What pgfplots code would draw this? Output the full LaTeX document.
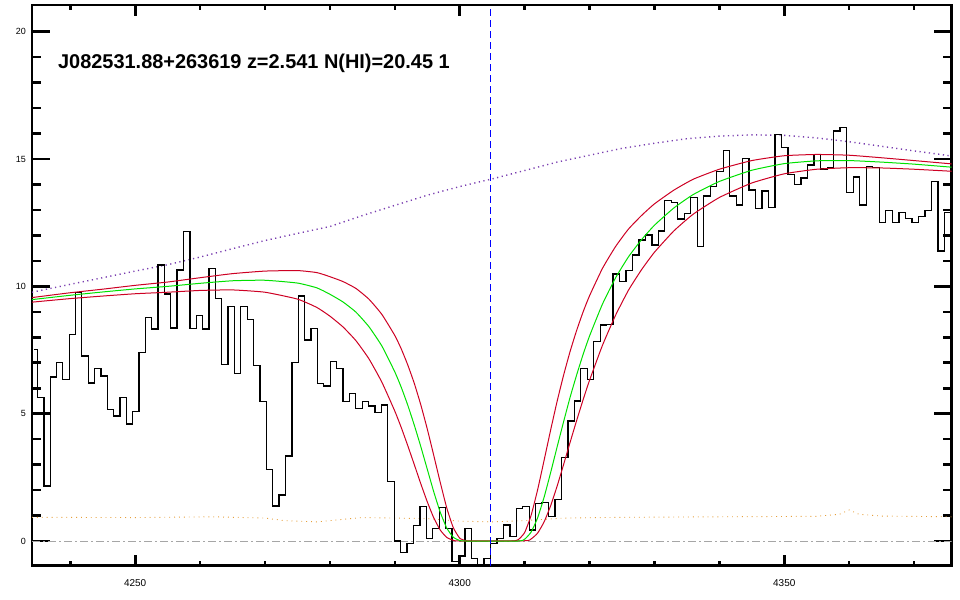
\documentclass[border=0pt]{standalone}
\usepackage{pgfplots}
\pgfplotsset{compat=1.18}
\usepackage{fontspec}
\setmainfont{Liberation Sans}
\definecolor{fitgreen}{RGB}{0,225,0}
\definecolor{fitred}{RGB}{205,0,35}
\definecolor{contpurple}{RGB}{120,60,175}
\definecolor{errorange}{RGB}{230,160,60}
\begin{document}
\begin{tikzpicture}
\useasboundingbox (0,0) rectangle (960bp,600bp);
\begin{axis}[
  at={(32bp,34.3bp)}, anchor=south west,
  scale only axis, width=919.7bp, height=560.7bp,
  xmin=4234.1, xmax=4375.8, ymin=-0.97, ymax=21.05,
  axis line style={line width=2.6bp},
  xtick={4250,4300,4350},
  minor xtick={4240,4260,4270,4280,4290,4310,4320,4330,4340,4360,4370},
  ytick={0,5,10,15,20},
  minor ytick={1,2,3,4,6,7,8,9,11,12,13,14,16,17,18,19},
  tick align=inside, xtick pos=both, ytick pos=both,
  xticklabel pos=lower, yticklabel pos=left,
  tick style={line width=2.6bp, black},
  xtick style={/pgfplots/major tick length=11bp, /pgfplots/minor tick length=5bp},
  ytick style={/pgfplots/major tick length=18bp, /pgfplots/minor tick length=9bp},
  /pgf/number format/assume math mode=true,
  xticklabel style={font=\fontsize{10}{12}\selectfont, anchor=center, yshift=-17.3bp},
  yticklabel style={font=\fontsize{9}{10}\selectfont, anchor=east, inner sep=0pt, xshift=-6bp},
  scaled x ticks=false,
  xticklabel={\pgfmathprintnumber[fixed,precision=0,1000 sep={}]{\tick}},
  clip=true,
]
% zero line
\addplot[gray!70, line width=0.8bp, dash pattern=on 8bp off 3bp on 2bp off 3bp] coordinates {(4234.1,0) (4375.8,0)};
% error spectrum
\addplot[errorange, line width=0.9bp, dash pattern=on 0.9bp off 4bp] coordinates {
(4234.1,0.93) (4250,0.92) (4262,0.95) (4270,0.90) (4273,0.80) (4278,0.75) (4282,0.85)
(4285,0.92) (4295,0.88) (4300,0.78) (4305,0.75) (4310,0.80) (4316,0.90) (4325,0.93)
(4340,0.95) (4355,0.97) (4358.5,1.05) (4360,1.22) (4361.5,1.05) (4365,0.98) (4375.8,0.95)};
% continuum
\addplot[contpurple, line width=1.4bp, dash pattern=on 1.2bp off 3.5bp] coordinates {
(4234.1,9.77) (4240,10.08) (4245,10.34) (4250,10.60) (4255,10.85) (4260,11.15) (4265,11.48)
(4270,11.80) (4275,12.08) (4280,12.35) (4285,12.78) (4290,13.18) (4295,13.58) (4300,13.92)
(4305,14.22) (4310,14.55) (4315,14.88) (4320,15.15) (4325,15.42) (4330,15.62) (4335,15.80)
(4340,15.90) (4345,15.95) (4350,15.93) (4355,15.83) (4360,15.68) (4365,15.50) (4370,15.32)
(4375.8,15.12)};
% spectrum
\addplot[black, line width=1.3bp, const plot mark left] coordinates {
(4234.45,7.53) (4234.95,5.64) (4235.93,2.16) (4236.90,6.44) (4237.88,7.00) (4238.85,6.35)
(4239.83,8.12) (4240.80,9.75) (4241.78,7.27) (4242.76,6.21) (4243.74,6.78) (4244.71,6.48)
(4245.69,5.17) (4246.67,4.91) (4247.65,5.64) (4248.62,4.60) (4249.60,5.09) (4250.58,7.41)
(4251.56,8.79) (4252.54,8.33) (4253.52,10.84) (4254.50,9.70) (4255.48,8.37) (4256.46,10.64)
(4257.44,12.15) (4258.42,8.35) (4259.40,8.86) (4260.38,8.33) (4261.36,10.71) (4262.34,9.53)
(4263.32,6.94) (4264.31,9.20) (4265.29,6.59) (4266.27,9.20) (4267.25,8.71) (4268.23,6.90)
(4269.22,5.49) (4270.20,2.82) (4271.18,1.37) (4272.17,1.81) (4273.15,3.34) (4274.14,7.02)
(4275.12,9.62) (4276.10,7.89) (4277.09,8.35) (4278.07,6.19) (4279.06,6.09) (4280.04,7.04)
(4281.03,6.78) (4282.02,5.47) (4283.00,5.80) (4283.99,5.21) (4284.97,5.47) (4285.96,5.30)
(4286.95,5.05) (4287.93,5.34) (4288.92,2.33) (4289.91,0.00) (4290.90,-0.44) (4291.89,-0.09)
(4292.88,0.60) (4293.86,1.35) (4294.85,0.10) (4295.84,0.50) (4296.83,1.32) (4297.82,0.50)
(4298.81,-0.81) (4299.80,-0.59) (4300.79,0.50) (4301.78,-0.68) (4302.77,-1.10) (4303.76,-0.68)
(4304.75,-0.09) (4305.74,0.10) (4306.74,0.63) (4307.73,0.17) (4308.72,1.28) (4309.71,1.35)
(4310.70,0.43) (4311.69,1.48) (4312.69,1.50) (4313.68,0.95) (4314.68,1.64) (4315.67,3.29)
(4316.66,4.71) (4317.66,5.50) (4318.65,6.78) (4319.65,6.35) (4320.64,7.83) (4321.64,8.48)
(4322.63,8.51) (4323.63,10.49) (4324.62,10.19) (4325.62,10.62) (4326.61,11.23) (4327.61,11.82)
(4328.61,12.02) (4329.61,11.63) (4330.60,12.18) (4331.60,13.37) (4332.60,13.30) (4333.60,12.65)
(4334.59,12.87) (4335.59,13.48) (4336.59,11.56) (4337.59,13.55) (4338.59,13.92) (4339.59,14.51)
(4340.59,15.33) (4341.59,13.55) (4342.59,13.20) (4343.59,15.03) (4344.59,13.79) (4345.59,13.07)
(4346.59,13.75) (4347.59,13.11) (4348.59,15.97) (4349.59,15.46) (4350.59,14.38) (4351.59,14.01)
(4352.60,14.25) (4353.60,14.77) (4354.60,15.19) (4355.60,14.61) (4356.61,14.68) (4357.61,16.10)
(4358.61,16.25) (4359.62,13.70) (4360.62,14.29) (4361.63,13.20) (4362.63,14.70) (4363.64,14.68)
(4364.64,12.52) (4365.65,12.97) (4366.65,12.52) (4367.66,12.90) (4368.67,12.67) (4369.67,12.52)
(4370.68,12.74) (4371.68,12.97) (4372.69,14.11) (4373.69,11.39) (4374.70,12.90) (4375.70,12.90)};
% fit: upper error
\addplot[fitred, line width=1bp, smooth, tension=0.3] coordinates {
(4234.1,9.56) (4240,9.75) (4245,9.89) (4250,10.04) (4255,10.17) (4260,10.34) (4265,10.50)
(4270,10.60) (4275,10.62) (4278,10.54) (4280,10.38) (4282,10.19) (4284,9.92) (4286,9.50)
(4288,8.90) (4290,8.07) (4291,7.54) (4292,6.91) (4293,6.19) (4294,5.35) (4295,4.40)
(4296,3.36) (4297,2.30) (4298,1.30) (4299,0.53) (4300,0.11) (4301,0.01) (4302,0) (4308,0)
(4309,0.05) (4310,0.33) (4311,1.01) (4312,2.01) (4313,3.17) (4314,4.35) (4315,5.48)
(4316,6.51) (4317,7.44) (4318,8.26) (4319,8.99) (4320,9.63) (4322,10.71) (4324,11.56)
(4326,12.25) (4328,12.78) (4330,13.24) (4333,13.78) (4336,14.21) (4340,14.60) (4345,14.94)
(4350,15.13) (4355,15.18) (4360,15.15) (4365,15.05) (4370,14.94) (4375.8,14.81)};
% fit: lower error
\addplot[fitred, line width=1bp, smooth, tension=0.3] coordinates {
(4234.1,9.38) (4240,9.52) (4245,9.62) (4250,9.71) (4255,9.77) (4260,9.84) (4265,9.86)
(4270,9.77) (4275,9.50) (4278,9.17) (4280,8.83) (4282,8.41) (4284,7.87) (4286,7.16)
(4288,6.24) (4290,5.10) (4291,4.45) (4292,3.74) (4293,3.00) (4294,2.25) (4295,1.54)
(4296,0.91) (4297,0.43) (4298,0.14) (4299,0.03) (4300,0) (4310,0.01) (4311,0.08)
(4312,0.31) (4313,0.75) (4314,1.38) (4315,2.15) (4316,3.00) (4317,3.87) (4318,4.72)
(4319,5.54) (4320,6.31) (4322,7.69) (4324,8.86) (4326,9.85) (4328,10.65) (4330,11.34)
(4333,12.18) (4336,12.84) (4340,13.49) (4345,14.06) (4350,14.42) (4355,14.60) (4360,14.66)
(4365,14.65) (4370,14.60) (4375.8,14.52)};
% fit: best
\addplot[fitgreen, line width=1bp, smooth, tension=0.3] coordinates {
(4234.1,9.48) (4240,9.65) (4245,9.78) (4250,9.90) (4255,10.00) (4260,10.12) (4265,10.22)
(4270,10.24) (4275,10.13) (4278,9.94) (4280,9.69) (4282,9.39) (4284,8.99) (4286,8.42)
(4288,7.66) (4290,6.64) (4291,6.03) (4292,5.33) (4293,4.55) (4294,3.71) (4295,2.82)
(4296,1.93) (4297,1.13) (4298,0.51) (4299,0.15) (4300,0.02) (4301,0) (4309,0)
(4310,0.07) (4311,0.35) (4312,0.91) (4313,1.72) (4314,2.68) (4315,3.69) (4316,4.68)
(4317,5.64) (4318,6.51) (4319,7.32) (4320,8.05) (4322,9.31) (4324,10.33) (4326,11.16)
(4328,11.83) (4330,12.40) (4333,13.08) (4336,13.61) (4340,14.12) (4345,14.56) (4350,14.82)
(4355,14.93) (4360,14.94) (4365,14.88) (4370,14.80) (4375.8,14.68)};
% DLA centre
\addplot[blue, line width=1bp, dash pattern=on 7bp off 4bp] coordinates {(4304.7,-0.97) (4304.7,21.05)};
\node[anchor=west, inner sep=0pt, font=\fontsize{20}{22}\selectfont\bfseries] at (axis cs:4238.1,18.77) {J082531.88+263619 z=2.541 N(HI)=20.45 1};
\end{axis}
\end{tikzpicture}
\end{document}
